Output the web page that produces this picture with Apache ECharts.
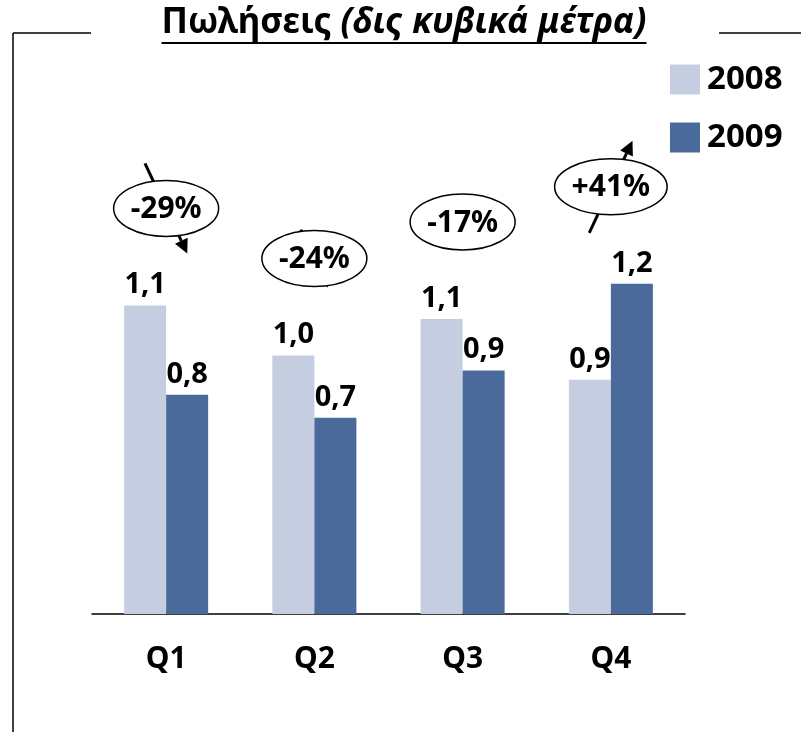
<!DOCTYPE html>
<html>
<head>
    <meta charset="UTF-8">
    <title>Πωλήσεις</title>
    <script type="text/javascript" src="https://cdn.jsdelivr.net/npm/echarts@6.0.0/dist/echarts.min.js"></script>
    <style type="text/css">
        html, body { margin: 0; padding: 0; background: #fff; }
        #chart { width: 801px; height: 732px; }
    </style>
</head>
<body>
    <div id="chart"></div>

    <script>
    // data (bar heights), labels are rounded to one decimal
    var quarters = ['Q1', 'Q2', 'Q3', 'Q4'];
    var sales2008 = [1.14, 0.955, 1.09, 0.865];
    var sales2009 = [0.81, 0.725, 0.90, 1.22];
    var changeLabels = ['-29%', '-24%', '-17%', '+41%'];

    var FONT = '"Noto Sans", "DejaVu Sans", sans-serif';
    var noteFont = 'bold 30px ' + FONT;
    // how far the arrow reaches above/below the ellipse centre
    var arrowReach = [45, 29, 0, 46];

    var ctx = document.createElement('canvas').getContext('2d');
    function textWidth(t, font) {
        ctx.font = font;
        return ctx.measureText(t).width;
    }

    function fmt(v) {
        return v.toFixed(1).replace('.', ',');
    }

    function renderNote(params, api) {
        var i = params.dataIndex;
        var top = api.coord([api.value(0), api.value(1)]);
        var cx = top[0], cy = top[1] - 97;
        var txt = changeLabels[i];
        var rx = textWidth(txt, noteFont) / 2 + 17, ry = 28;
        var children = [];
        var reach = arrowReach[i];
        if (reach > 0) {
            var up = txt.charAt(0) === '+';
            var dx = reach * 0.47;
            var x0 = cx - dx, y0 = up ? cy + reach : cy - reach;
            var x1 = cx + dx, y1 = up ? cy - reach : cy + reach;
            var ang = Math.atan2(y1 - y0, x1 - x0);
            var L = 14, W = 7;
            var bx = x1 - L * Math.cos(ang), by = y1 - L * Math.sin(ang);
            children.push({
                type: 'line',
                shape: { x1: x0, y1: y0, x2: bx, y2: by },
                style: { stroke: '#000', lineWidth: 3 }
            });
            children.push({
                type: 'polygon',
                shape: { points: [[x1, y1], [bx - W * Math.sin(ang), by + W * Math.cos(ang)], [bx + W * Math.sin(ang), by - W * Math.cos(ang)]] },
                style: { fill: '#000' }
            });
        }
        children.push({
            type: 'ellipse',
            shape: { cx: cx, cy: cy, rx: rx, ry: ry },
            style: { fill: '#fff', stroke: '#000', lineWidth: 1.5 }
        });
        children.push({
            type: 'text',
            x: cx,
            y: cy + 1,
            style: { text: txt, font: noteFont, fill: '#000', align: 'center', verticalAlign: 'middle' }
        });
        return { type: 'group', children: children };
    }

    // title: upright part + italic part, fitted to the width of the original
    var titleA = 'Πωλήσεις ';
    var titleB = '(δις κυβικά μέτρα)';
    var w0 = textWidth(titleA, 'bold 31px ' + FONT) + textWidth(titleB, 'italic bold 31px ' + FONT);
    var ts = Math.round(31 * 482 / w0);
    var titleFontA = 'bold ' + ts + 'px ' + FONT;
    var titleFontB = 'italic bold ' + ts + 'px ' + FONT;
    var wA = textWidth(titleA, titleFontA);
    var wB = textWidth(titleB, titleFontB);
    var titleL = 404 - (wA + wB) / 2;

    var myChart = echarts.init(document.getElementById('chart'));

    var labelStyle = {
        show: true, position: 'top', distance: 6,
        fontFamily: FONT, fontWeight: 'bold', fontSize: 29, color: '#000',
        formatter: function(p) { return fmt(p.value); }
    };

    var option = {
        animation: false,
        backgroundColor: '#fff',
        grid: { left: 92, right: 116, top: 208, bottom: 118 },
        legend: {
            data: ['2008', '2009'],
            orient: 'vertical',
            left: 665,
            top: 58,
            itemWidth: 30,
            itemHeight: 30,
            itemGap: 25,
            icon: 'rect',
            textStyle: { fontFamily: FONT, fontWeight: 'bold', fontSize: 33, color: '#000', lineHeight: 30, padding: [0, 0, 0, 2] }
        },
        xAxis: {
            type: 'category',
            data: quarters,
            axisLine: { lineStyle: { color: '#000', width: 1.5 } },
            axisTick: { show: false },
            axisLabel: { fontFamily: FONT, fontWeight: 'bold', fontSize: 30, color: '#000', margin: 30 }
        },
        yAxis: {
            type: 'value',
            min: 0,
            max: 1.5,
            show: false,
            splitLine: { show: false }
        },
        series: [{
            name: '2008',
            type: 'bar',
            data: sales2008,
            barWidth: 42,
            barGap: '0%',
            itemStyle: { color: '#c4cee0' },
            label: labelStyle
        }, {
            name: '2009',
            type: 'bar',
            data: sales2009,
            barWidth: 42,
            itemStyle: { color: '#4a6a9b' },
            label: labelStyle
        }, {
            type: 'custom',
            renderItem: renderNote,
            data: quarters.map(function(q, i) { return [i, Math.max(sales2008[i], sales2009[i])]; }),
            encode: { x: 0, y: 1 },
            z: 5
        }],
        graphic: [
            { type: 'line', shape: { x1: 13, y1: 33, x2: 91, y2: 33 }, style: { stroke: '#000', lineWidth: 1.5 } },
            { type: 'line', shape: { x1: 719, y1: 33, x2: 801, y2: 33 }, style: { stroke: '#000', lineWidth: 1.5 } },
            { type: 'line', shape: { x1: 13, y1: 33, x2: 13, y2: 732 }, style: { stroke: '#000', lineWidth: 1.5 } },
            { type: 'text', x: titleL, y: 41, style: { text: titleA, font: titleFontA, fill: '#000', align: 'left', verticalAlign: 'bottom' } },
            { type: 'text', x: titleL + wA, y: 41, style: { text: titleB, font: titleFontB, fill: '#000', align: 'left', verticalAlign: 'bottom' } },
            { type: 'line', shape: { x1: titleL, y1: 43, x2: titleL + wA + wB, y2: 43 }, style: { stroke: '#000', lineWidth: 2 } }
        ]
    };

    myChart.setOption(option);
    </script>
</body>
</html>
